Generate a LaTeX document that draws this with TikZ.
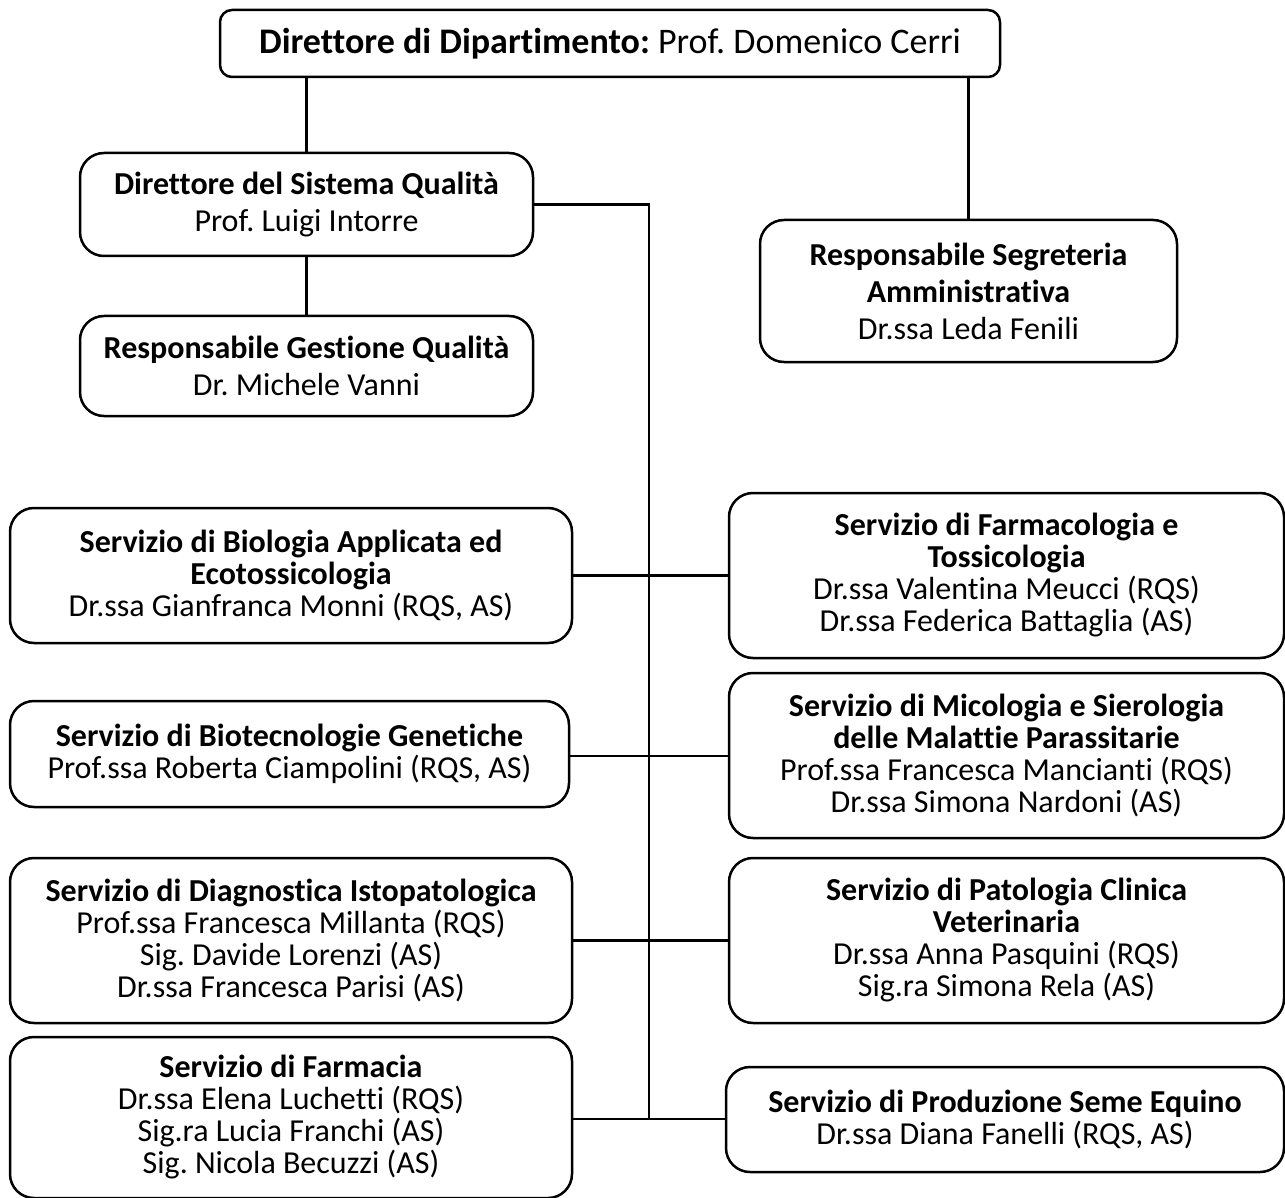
\documentclass[tikz,border=0pt]{standalone}
\usepackage{fontspec}
\setmainfont{Carlito}[Ligatures=NoCommon]
\frenchspacing
\begin{document}
\begin{tikzpicture}[x=1pt,y=-1pt,
  box/.style={draw, line width=2.5pt, rounded corners=24pt, align=center, inner sep=0pt,
    font=\fontsize{32}{32}\selectfont},
  boxwide/.style={box, font=\fontsize{32}{37}\selectfont},
  conn/.style={line width=2.5pt}]
\useasboundingbox (0,0) rectangle (1285,1198);

\node[box, rounded corners=12pt, minimum width=780pt, minimum height=67pt, font=\fontsize{36}{40}\selectfont] (top) at (610,43.5)
  {\textbf{Direttore di Dipartimento:} Prof. Domenico Cerri};

\node[boxwide, minimum width=453pt, minimum height=103pt] (sq) at (306.5,204.5)
  {\textbf{Direttore del Sistema Qualità}\\Prof. Luigi Intorre};
\node[boxwide, minimum width=453pt, minimum height=100pt] (rgq) at (306.5,366)
  {\textbf{Responsabile Gestione Qualità}\\Dr. Michele Vanni};
\node[boxwide, minimum width=417pt, minimum height=142pt] (rsa) at (968.5,291)
  {\textbf{Responsabile Segreteria}\\\textbf{Amministrativa}\\Dr.ssa Leda Fenili};

\node[box, minimum width=562pt, minimum height=135pt] (bio) at (291,575.5)
  {\textbf{Servizio di Biologia Applicata ed}\\\textbf{Ecotossicologia}\\Dr.ssa Gianfranca Monni (RQS, AS)};
\node[box, minimum width=555pt, minimum height=165pt] (farmtox) at (1006.5,575.5)
  {\textbf{Servizio di Farmacologia e}\\\textbf{Tossicologia}\\Dr.ssa Valentina Meucci (RQS)\\Dr.ssa Federica Battaglia (AS)};

\node[box, minimum width=559pt, minimum height=106pt] (biotec) at (289.5,754)
  {\textbf{Servizio di Biotecnologie Genetiche}\\Prof.ssa Roberta Ciampolini (RQS, AS)};
\node[box, minimum width=555pt, minimum height=165pt] (mico) at (1006.5,755.5)
  {\textbf{Servizio di Micologia e Sierologia}\\\textbf{delle Malattie Parassitarie}\\Prof.ssa Francesca Mancianti (RQS)\\Dr.ssa Simona Nardoni (AS)};

\node[box, minimum width=562pt, minimum height=165pt] (diag) at (291,940.5)
  {\textbf{Servizio di Diagnostica Istopatologica}\\Prof.ssa Francesca Millanta (RQS)\\Sig. Davide Lorenzi (AS)\\Dr.ssa Francesca Parisi (AS)};
\node[box, minimum width=555pt, minimum height=165pt] (pat) at (1006.5,940.5)
  {\textbf{Servizio di Patologia Clinica}\\\textbf{Veterinaria}\\Dr.ssa Anna Pasquini (RQS)\\Sig.ra Simona Rela (AS)};

\node[box, minimum width=562pt, minimum height=161pt] (farmacia) at (291,1117.5)
  {\textbf{Servizio di Farmacia}\\Dr.ssa Elena Luchetti (RQS)\\Sig.ra Lucia Franchi (AS)\\Sig. Nicola Becuzzi (AS)};
\node[box, minimum width=558pt, minimum height=105pt] (seme) at (1005,1119.5)
  {\textbf{Servizio di Produzione Seme Equino}\\Dr.ssa Diana Fanelli (RQS, AS)};

\coordinate (spine) at (649,1119);

\draw[conn] (sq.north) -- (sq.north |- top.south);
\draw[conn] (rsa.north) -- (rsa.north |- top.south);
\draw[conn] (sq.south) -- (rgq.north);
\draw[conn] (sq.east) -| (spine);
\draw[conn] (bio.east) -- (bio.east -| farmtox.west);
\draw[conn] (biotec.east |- 0,756) -- (mico.west |- 0,756);
\draw[conn] (diag.east) -- (diag.east -| pat.west);
\draw[conn] (farmacia.east |- spine) -- (seme.west |- spine);
\end{tikzpicture}
\end{document}
